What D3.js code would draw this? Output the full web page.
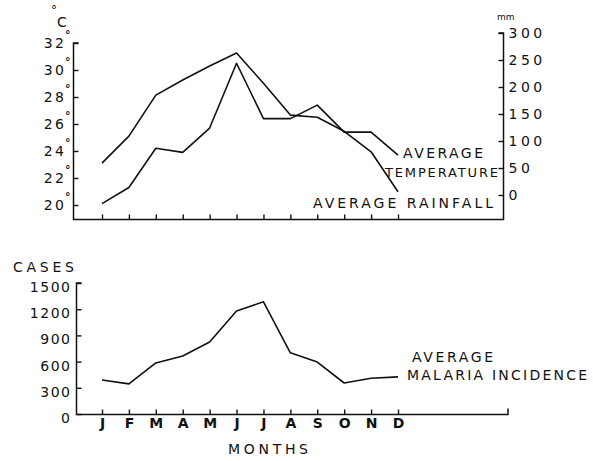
<!DOCTYPE html>
<html>
<head>
<meta charset="utf-8">
<script src="https://cdn.jsdelivr.net/npm/d3@7"></script>
<style>
  html, body { margin: 0; padding: 0; background: #fff; }
  svg { display: block; }
  .ax text { font-family: "DejaVu Sans", sans-serif; fill: #111; }
  .ax line { stroke: #111; stroke-width: 1.4; }
</style>
</head>
<body>
<script>
// ---- data ----
const months = ["J","F","M","A","M","J","J","A","S","O","N","D"];
const temperature = [20.1, 21.3, 24.2, 23.9, 25.7, 30.5, 26.4, 26.4, 27.4, 25.4, 25.4, 23.7]; // °C
const rainfall = [59, 109, 185, 213, 239, 263, 207, 148, 144, 118, 80, 6];                 // mm
const malaria = [390, 345, 585, 665, 825, 1180, 1285, 700, 595, 355, 410, 425];           // cases
const tempTicks = [20, 22, 24, 26, 28, 30, 32];
const rainTicks = [0, 50, 100, 150, 200, 250, 300];
const caseTicks = [0, 300, 600, 900, 1200, 1500];

const W = 593, H = 461;
const svg = d3.select("body").append("svg").attr("width", W).attr("height", H)
  .style("font-family", "DejaVu Sans, sans-serif");
svg.append("rect").attr("width", W).attr("height", H).attr("fill", "#fff");

const x = d3.scaleLinear().domain([0, 11]).range([102, 398]);
const yT = d3.scaleLinear().domain([20, 32]).range([205, 43]);
const yR = d3.scaleLinear().domain([0, 300]).range([195, 33]);
const yC = d3.scaleLinear().domain([0, 1500]).range([414, 283]);

const ink = "#111";
const sw = 1.6;

// ---- top chart frame ----
const topBase = 219.5, leftT = 73.5, rightT = 503.5;
svg.append("path").attr("fill", "none").attr("stroke", ink).attr("stroke-width", 1.5)
  .attr("d", `M${leftT + 5},${yT(32)}H${leftT}V${topBase}H${rightT}V${yR(300)}H${rightT - 5}`);

const gL = svg.append("g").attr("class", "ax").attr("transform", `translate(${leftT},0)`)
  .call(d3.axisLeft(yT).tickValues(tempTicks).tickSize(-5).tickPadding(7).tickFormat(d => d));
gL.select(".domain").remove();
gL.selectAll("text").attr("font-size", 14).attr("letter-spacing", 2.5);
gL.selectAll(".tick").append("text").text("°")
  .attr("x", -3).attr("y", -6).attr("font-size", 11).attr("font-weight", "bold").attr("fill", ink);

const gR = svg.append("g").attr("class", "ax").attr("transform", `translate(${rightT},0)`)
  .call(d3.axisRight(yR).tickValues(rainTicks).tickSize(-5).tickPadding(5).tickFormat(d => d));
gR.select(".domain").remove();
gR.selectAll("text").attr("font-size", 14).attr("letter-spacing", 3.5);

const gXT = svg.append("g").attr("class", "ax").attr("transform", `translate(0,${topBase})`)
  .call(d3.axisBottom(x).tickValues(d3.range(12)).tickSize(-5).tickFormat(""));
gXT.select(".domain").remove();

// unit labels
svg.append("text").attr("x", 51).attr("y", 14).attr("font-size", 12).attr("fill", ink).text("°");
svg.append("text").attr("x", 57).attr("y", 27).attr("font-size", 14).attr("fill", ink).text("C");
svg.append("text").attr("x", 497).attr("y", 20).attr("font-size", 9).attr("fill", ink).text("mm");

// ---- top lines ----
const lineT = d3.line().x((d, i) => x(i)).y(d => yT(d));
const lineR = d3.line().x((d, i) => x(i)).y(d => yR(d));
svg.append("path").datum(temperature).attr("fill", "none").attr("stroke", ink)
  .attr("stroke-width", sw).attr("stroke-linejoin", "round").attr("d", lineT);
svg.append("path").datum(rainfall).attr("fill", "none").attr("stroke", ink)
  .attr("stroke-width", sw).attr("stroke-linejoin", "round").attr("d", lineR);

function label(txt, x0, base, width, size) {
  svg.append("text").attr("x", x0).attr("y", base).attr("font-size", size).attr("fill", ink)
    .attr("textLength", width).attr("lengthAdjust", "spacing").text(txt);
}
label("AVERAGE", 403, 158, 80, 14);
label("TEMPERATURE", 385, 177, 113, 13);
label("AVERAGE RAINFALL", 313, 208, 180, 14);

// ---- bottom chart ----
const botBase = 414.5, leftB = 76.5, rightB = 508;
svg.append("path").attr("fill", "none").attr("stroke", ink).attr("stroke-width", 1.5)
  .attr("d", `M${leftB + 5},${yC(1500)}H${leftB}V${botBase}H${rightB}V${botBase - 6}`);

const gC = svg.append("g").attr("class", "ax").attr("transform", `translate(${leftB},0)`)
  .call(d3.axisLeft(yC).tickValues(caseTicks).tickSize(-5).tickPadding(5).tickFormat(d => d));
gC.select(".domain").remove();
gC.selectAll("text").attr("font-size", 14).attr("letter-spacing", 1.5).attr("y", 4);

const gXB = svg.append("g").attr("class", "ax").attr("transform", `translate(0,${botBase})`)
  .call(d3.axisBottom(x).tickValues(d3.range(12)).tickSize(-5).tickPadding(4).tickFormat(i => months[i]));
gXB.select(".domain").remove();
gXB.selectAll("text").attr("font-size", 14).attr("font-weight", "bold");

const lineC = d3.line().x((d, i) => x(i)).y(d => yC(d));
svg.append("path").datum(malaria).attr("fill", "none").attr("stroke", ink)
  .attr("stroke-width", sw).attr("stroke-linejoin", "round").attr("d", lineC);

label("CASES", 13, 272, 61, 14);
label("MONTHS", 228, 454, 80, 14);
label("AVERAGE", 412, 362, 81, 14);
label("MALARIA INCIDENCE", 407, 380, 180, 14);
</script>
</body>
</html>
